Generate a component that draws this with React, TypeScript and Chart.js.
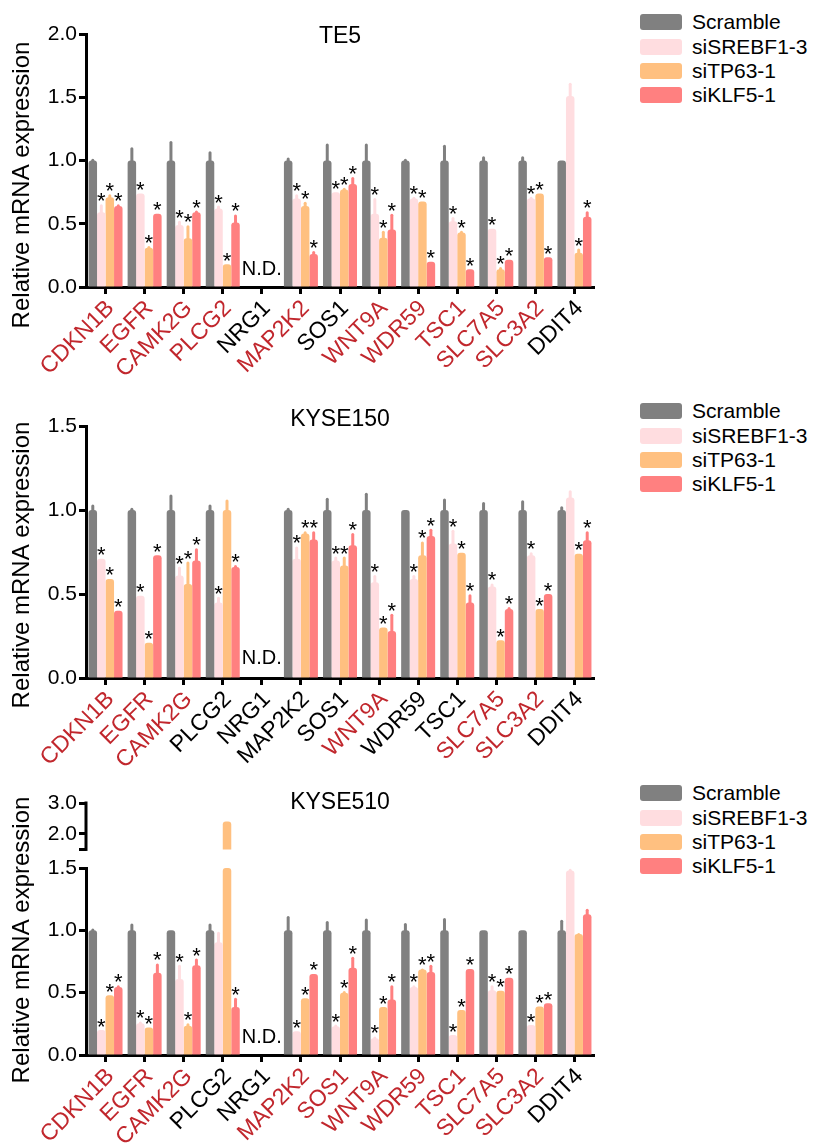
import React, { useEffect, useRef } from "react";
import { Chart, registerables } from "chart.js";
Chart.register(...registerables);

const FONT = "'Liberation Sans', Arial, sans-serif";

const categories = ["CDKN1B", "EGFR", "CAMK2G", "PLCG2", "NRG1", "MAP2K2", "SOS1", "WNT9A", "WDR59", "TSC1", "SLC7A5", "SLC3A2", "DDIT4"];
const seriesNames = ["Scramble", "siSREBF1-3", "siTP63-1", "siKLF5-1"];
const seriesColors = ["#808080", "#FFDDE0", "#FFC080", "#FF8080"];
const ndCategory = "NRG1";

// ---------- TE5 ----------
const te5Scramble = [1.0, 1.0, 1.0, 1.0, null, 1.0, 1.0, 1.0, 1.0, 1.0, 1.0, 1.0, 1.0];
const te5ScrambleErr = [0.01, 0.10, 0.15, 0.07, null, 0.02, 0.13, 0.13, 0.01, 0.12, 0.03, 0.03, 0.0];
const te5Srebf = [0.59, 0.74, 0.49, 0.62, null, 0.70, 0.75, 0.58, 0.70, 0.52, 0.46, 0.70, 1.51];
const te5SrebfErr = [0.06, 0.0, 0.03, 0.02, null, 0.03, 0.0, 0.12, 0.01, 0.03, 0.0, 0.01, 0.10];
const te5Tp63 = [0.71, 0.31, 0.385, 0.18, null, 0.64, 0.77, 0.39, 0.675, 0.43, 0.14, 0.74, 0.27];
const te5Tp63Err = [0.02, 0.01, 0.10, 0.0, null, 0.03, 0.01, 0.05, 0.0, 0.01, 0.015, 0.0, 0.03];
const te5Klf5 = [0.64, 0.58, 0.59, 0.51, null, 0.26, 0.815, 0.455, 0.20, 0.14, 0.215, 0.235, 0.555];
const te5Klf5Err = [0.01, 0.0, 0.01, 0.06, null, 0.02, 0.05, 0.12, 0.0, 0.0, 0.0, 0.0, 0.04];
const te5SigSrebf = [1, 1, 1, 1, 0, 1, 1, 1, 1, 1, 1, 1, 0];
const te5SigTp63 = [1, 1, 1, 1, 0, 1, 1, 1, 1, 1, 1, 1, 1];
const te5SigKlf5 = [1, 1, 1, 1, 0, 1, 1, 1, 1, 1, 1, 1, 1];
const te5RedLabels = [1, 1, 1, 1, 0, 1, 0, 1, 1, 1, 1, 1, 0];

// ---------- KYSE150 ----------
const k150Scramble = [1.0, 1.0, 1.0, 1.0, null, 1.0, 1.0, 1.0, 1.0, 1.0, 1.0, 1.0, 1.0];
const k150ScrambleErr = [0.03, 0.01, 0.09, 0.03, null, 0.01, 0.07, 0.10, 0.0, 0.065, 0.045, 0.055, 0.02];
const k150Srebf = [0.71, 0.49, 0.61, 0.45, null, 0.71, 0.70, 0.57, 0.59, 0.80, 0.545, 0.73, 1.075];
const k150SrebfErr = [0.0, 0.0, 0.05, 0.03, null, 0.07, 0.02, 0.04, 0.02, 0.08, 0.015, 0.015, 0.04];
const k150Tp63 = [0.59, 0.21, 0.56, 1.0, null, 0.86, 0.67, 0.30, 0.73, 0.745, 0.225, 0.41, 0.74];
const k150Tp63Err = [0.0, 0.0, 0.13, 0.06, null, 0.01, 0.05, 0.0, 0.08, 0.0, 0.0, 0.0, 0.0];
const k150Klf5 = [0.40, 0.73, 0.70, 0.66, null, 0.825, 0.79, 0.28, 0.845, 0.45, 0.41, 0.50, 0.82];
const k150Klf5Err = [0.0, 0.0, 0.07, 0.01, null, 0.045, 0.07, 0.10, 0.04, 0.045, 0.01, 0.0, 0.05];
const k150SigSrebf = [1, 1, 1, 1, 0, 1, 1, 1, 1, 1, 1, 1, 0];
const k150SigTp63 = [1, 1, 1, 0, 0, 1, 1, 1, 1, 1, 1, 1, 1];
const k150SigKlf5 = [1, 1, 1, 1, 0, 1, 1, 1, 1, 1, 1, 1, 1];
const k150RedLabels = [1, 1, 1, 0, 0, 0, 0, 1, 0, 0, 1, 1, 0];

// ---------- KYSE510 ----------
const k510Scramble = [1.0, 1.0, 1.0, 1.0, null, 1.0, 1.0, 1.0, 1.0, 1.0, 1.0, 1.0, 1.0];
const k510ScrambleErr = [0.01, 0.05, 0.0, 0.05, null, 0.11, 0.07, 0.09, 0.055, 0.095, 0.0, 0.0, 0.08];
const k510Srebf = [0.20, 0.255, 0.61, 0.905, null, 0.19, 0.23, 0.135, 0.545, 0.16, 0.52, 0.24, 1.48];
const k510SrebfErr = [0.0, 0.01, 0.11, 0.08, null, 0.0, 0.01, 0.01, 0.01, 0.0, 0.035, 0.0, 0.01];
const k510Tp63 = [0.48, 0.22, 0.235, 2.4, null, 0.455, 0.50, 0.385, 0.685, 0.36, 0.515, 0.39, 0.97];
const k510Tp63Err = [0.0, 0.0, 0.015, 0.0, null, 0.0, 0.01, 0.0, 0.005, 0.0, 0.0, 0.0, 0.005];
const k510Klf5 = [0.545, 0.66, 0.72, 0.385, null, 0.65, 0.70, 0.445, 0.665, 0.69, 0.62, 0.415, 1.13];
const k510Klf5Err = [0.01, 0.07, 0.05, 0.07, null, 0.0, 0.085, 0.11, 0.055, 0.0, 0.0, 0.0, 0.04];
const k510SigSrebf = [1, 1, 1, 0, 0, 1, 1, 1, 1, 1, 1, 1, 0];
const k510SigTp63 = [1, 1, 1, 0, 0, 1, 1, 1, 1, 1, 1, 1, 0];
const k510SigKlf5 = [1, 1, 1, 1, 0, 1, 1, 1, 1, 1, 1, 1, 0];
const k510RedLabels = [1, 1, 1, 0, 0, 1, 1, 1, 1, 1, 1, 1, 0];

const noSig = categories.map(() => 0);

const LABEL_RED = "#C1272D";

type PanelDef = {
  title: string;
  top: number;
  height: number;
  padTop: number;
  xAxisHeight: number;
  titleY: number;
  yTitleY: number;
  ndOffset: number;
  yMax: number;
  values: (number | null)[][];
  errs: (number | null)[][];
  sigs: number[][];
  redLabels: number[];
  broken?: { lowMax: number; upMin: number; upMax: number; upTicks: number[]; upWeight: number; lowWeight: number };
  legendY: number[];
};

const panels: PanelDef[] = [
  {
    title: "TE5", top: 0, height: 395, padTop: 34, xAxisHeight: 108, titleY: 36.5, yTitleY: 185, ndOffset: 18, yMax: 2.0,
    values: [te5Scramble, te5Srebf, te5Tp63, te5Klf5],
    errs: [te5ScrambleErr, te5SrebfErr, te5Tp63Err, te5Klf5Err],
    sigs: [noSig, te5SigSrebf, te5SigTp63, te5SigKlf5],
    redLabels: te5RedLabels,
    legendY: [22, 47, 71, 95],
  },
  {
    title: "KYSE150", top: 395, height: 385, padTop: 31, xAxisHeight: 102, titleY: 24.5, yTitleY: 565 - 395, ndOffset: 20, yMax: 1.5,
    values: [k150Scramble, k150Srebf, k150Tp63, k150Klf5],
    errs: [k150ScrambleErr, k150SrebfErr, k150Tp63Err, k150Klf5Err],
    sigs: [noSig, k150SigSrebf, k150SigTp63, k150SigKlf5],
    redLabels: k150RedLabels,
    legendY: [411, 436, 460, 484],
  },
  {
    title: "KYSE510", top: 780, height: 366, padTop: 23, xAxisHeight: 91, titleY: 23, yTitleY: 940 - 780, ndOffset: 18, yMax: 1.5,
    values: [k510Scramble, k510Srebf, k510Tp63, k510Klf5],
    errs: [k510ScrambleErr, k510SrebfErr, k510Tp63Err, k510Klf5Err],
    sigs: [noSig, k510SigSrebf, k510SigTp63, k510SigKlf5],
    redLabels: k510RedLabels,
    broken: { lowMax: 1.5, upMin: 0.9, upMax: 3.0, upTicks: [1.5, 2.0, 3.0], upWeight: 65, lowWeight: 187 },
    legendY: [793, 818, 842, 866],
  },
];

const yTicks = {
  font: { family: FONT, size: 21 }, color: "#000", padding: 2, autoSkip: false,
  callback: (v: any) => Number(v).toFixed(1),
};

function yAxisBase(extra: any) {
  return {
    type: "linear",
    position: "left",
    stacked: false,
    afterFit: (s: any) => { s.width = 86; },
    border: { display: true, width: 3, color: "#000" },
    grid: { display: true, drawOnChartArea: false, drawTicks: true, tickLength: 7, tickWidth: 3, tickColor: "#000", color: "#000" },
    ticks: { ...yTicks },
    ...extra,
  };
}

function buildChart(canvas: HTMLCanvasElement, def: PanelDef) {
  const brk = def.broken;
  const datasets: any[] = def.values.map((vals, si) => ({
    label: seriesNames[si],
    data: vals.map((v) => (v == null ? null : brk ? Math.min(v, brk.lowMax) : v)),
    rawValues: vals,
    errs: def.errs[si],
    sig: def.sigs[si],
    backgroundColor: seriesColors[si],
    yAxisID: "y",
    stack: "s" + si,
  }));
  if (brk) {
    const si = 2;
    datasets.push({
      label: seriesNames[si] + " (upper)",
      data: def.values[si].map((v) => (v != null && v > brk.lowMax ? [brk.lowMax, v] : null)),
      backgroundColor: seriesColors[si],
      yAxisID: "y2",
      stack: "s" + si,
    });
  }

  const scales: any = {
    x: {
      type: "category",
      offset: true,
      afterFit: (s: any) => { s.height = def.xAxisHeight; },
      border: { display: true, width: 3, color: "#000" },
      grid: { display: true, offset: false, drawOnChartArea: false, drawTicks: true, tickLength: 7, tickWidth: 3, tickColor: "#000" },
      ticks: {
        autoSkip: false, maxRotation: 45, minRotation: 45, padding: 1, labelOffset: 5,
        font: { family: FONT, size: 23 },
        color: (ctx: any) => (def.redLabels[ctx.index] ? LABEL_RED : "#000"),
      },
    },
  };
  if (brk) {
    scales.y = yAxisBase({ min: 0, max: brk.lowMax, stack: "v", stackWeight: brk.lowWeight, ticks: { ...yTicks, stepSize: 0.5 } });
    scales.y2 = yAxisBase({
      min: brk.upMin, max: brk.upMax, stack: "v", stackWeight: brk.upWeight, offset: false,
      border: { display: false },
      afterBuildTicks: (s: any) => { s.ticks = brk.upTicks.map((v) => ({ value: v })); },
      ticks: { ...yTicks, callback: (v: any) => (Number(v) === brk.lowMax ? "" : Number(v).toFixed(1)) },
    });
  } else {
    scales.y = yAxisBase({ min: 0, max: def.yMax, ticks: { ...yTicks, stepSize: 0.5 } });
  }

  const overlay = {
    id: "overlay",
    afterDatasetsDraw(chart: any) {
      const ctx = chart.ctx;
      ctx.save();
      chart.data.datasets.forEach((ds: any, di: number) => {
        if (!ds.rawValues) return;
        const meta = chart.getDatasetMeta(di);
        const yScale = chart.scales[meta.yAxisID];
        meta.data.forEach((bar: any, i: number) => {
          const v = ds.rawValues[i];
          if (v == null || v > yScale.max) return;
          const e = ds.errs[i] || 0;
          const yBar = yScale.getPixelForValue(v);
          const yTop = yScale.getPixelForValue(v + e);
          if (e > 0) {
            ctx.strokeStyle = ds.backgroundColor;
            ctx.lineWidth = 3;
            ctx.lineCap = "round";
            ctx.beginPath();
            ctx.moveTo(bar.x, yBar + 2);
            ctx.lineTo(bar.x, yTop + 1);
            ctx.stroke();
          }
          if (ds.sig[i]) {
            ctx.fillStyle = "#000";
            ctx.font = `22px ${FONT}`;
            ctx.textAlign = "center";
            ctx.textBaseline = "alphabetic";
            ctx.fillText("*", bar.x, yTop + 3.5);
          }
        });
      });
      // N.D.
      const xs = chart.scales.x;
      const ys = chart.scales.y;
      ctx.fillStyle = "#000";
      ctx.font = `20px ${FONT}`;
      ctx.textAlign = "center";
      ctx.textBaseline = "middle";
      ctx.fillText("N.D.", xs.getPixelForValue(categories.indexOf(ndCategory)), ys.getPixelForValue(0) - def.ndOffset);
      ctx.restore();
    },
    afterDraw(chart: any) {
      const ctx = chart.ctx;
      const ca = chart.chartArea;
      ctx.save();
      ctx.fillStyle = "#000";
      ctx.font = `23px ${FONT}`;
      ctx.textAlign = "center";
      ctx.textBaseline = "middle";
      ctx.fillText(def.title, (ca.left + ca.right) / 2, def.titleY);
      ctx.translate(22, def.yTitleY);
      ctx.rotate(-Math.PI / 2);
      ctx.font = `24px ${FONT}`;
      ctx.fillText("Relative mRNA expression", 0, 0);
      ctx.restore();
      if (brk) {
        const s2 = chart.scales.y2;
        ctx.save();
        ctx.strokeStyle = "#000";
        ctx.lineWidth = 3;
        ctx.beginPath();
        ctx.moveTo(s2.right, s2.getPixelForValue(brk.upMax) - 1.5);
        ctx.lineTo(s2.right, s2.getPixelForValue(brk.lowMax) + 1.5);
        ctx.stroke();
        ctx.restore();
      }
    },
  };

  return new Chart(canvas, {
    type: "bar",
    data: { labels: categories, datasets },
    options: {
      responsive: false,
      animation: false,
      devicePixelRatio: 1,
      events: [],
      layout: { padding: { left: 0, right: 16, top: def.padTop, bottom: 0 } },
      datasets: {
        bar: {
          barPercentage: 1.0,
          categoryPercentage: 0.87,
          borderRadius: { topLeft: 3, topRight: 3, bottomLeft: 0, bottomRight: 0 },
          borderSkipped: "start",
        },
      } as any,
      plugins: { legend: { display: false }, tooltip: { enabled: false }, title: { display: false } },
      scales,
    } as any,
    plugins: [overlay],
  });
}

function Panel({ def }: { def: PanelDef }) {
  const ref = useRef<HTMLCanvasElement | null>(null);
  useEffect(() => {
    if (!ref.current) return;
    const chart = buildChart(ref.current, def);
    return () => chart.destroy();
  }, [def]);
  return (
    <canvas
      ref={ref}
      width={610}
      height={def.height}
      style={{ position: "absolute", left: 0, top: def.top, width: 610, height: def.height }}
    />
  );
}

function Legend({ ys }: { ys: number[] }) {
  return (
    <>
      {seriesNames.map((n, i) => (
        <React.Fragment key={n}>
          <div
            style={{
              position: "absolute", left: 640, top: ys[i] - 8, width: 42, height: 16,
              background: seriesColors[i], borderRadius: 3,
            }}
          />
          <div
            style={{
              position: "absolute", left: 692, top: ys[i] - 12, height: 24, lineHeight: "24px",
              fontFamily: FONT, fontSize: 21, color: "#000", whiteSpace: "nowrap",
            }}
          >
            {n}
          </div>
        </React.Fragment>
      ))}
    </>
  );
}

export default function App() {
  return (
    <div style={{ position: "absolute", left: 0, top: 0, width: 814, height: 1146, background: "#fff", overflow: "hidden" }}>
      {panels.map((p) => (
        <React.Fragment key={p.title}>
          <Panel def={p} />
          <Legend ys={p.legendY} />
        </React.Fragment>
      ))}
    </div>
  );
}
